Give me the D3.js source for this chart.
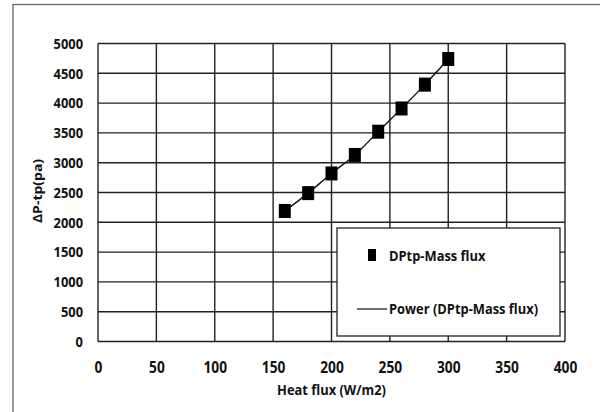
<!DOCTYPE html>
<html>
<head>
<meta charset="utf-8">
<title>DPtp vs heat flux</title>
<style>
  body { margin: 0; background: #fff; }
  svg text { font-family: "Open Sans", sans-serif; font-weight: bold; fill: #111; }
</style>
</head>
<body>
<script src="https://cdn.jsdelivr.net/npm/d3@7/dist/d3.min.js"></script>
<script>
// data
var heatFlux = [160, 180, 200, 220, 240, 260, 280, 300];
var dpTp = [2190, 2490, 2820, 3130, 3520, 3910, 4310, 4740];
var xTicks = [0, 50, 100, 150, 200, 250, 300, 350, 400];
var yTicks = [0, 500, 1000, 1500, 2000, 2500, 3000, 3500, 4000, 4500, 5000];
var legendLabels = ["DPtp-Mass flux", "Power (DPtp-Mass flux)"];

var W = 600, H = 412;
var plot = {left: 98, right: 565, top: 43.5, bottom: 341.5};
var sx = 0.86; // squeeze text horizontally (narrow font look)

var svg = d3.select("body").append("svg")
    .attr("width", W)
    .attr("height", H);

svg.append("rect").attr("width", W).attr("height", H).attr("fill", "#fff");

// outer frame of the chart
svg.append("rect")
    .attr("x", 13).attr("y", 4.5)
    .attr("width", 620).attr("height", 440)
    .attr("fill", "none")
    .attr("stroke", "#666")
    .attr("stroke-width", 1.3);

var x = d3.scaleLinear().domain([0, 400]).range([plot.left, plot.right]);
var y = d3.scaleLinear().domain([0, 5000]).range([plot.bottom, plot.top]);

// gridlines
var grid = svg.append("g").attr("stroke", "#222").attr("stroke-width", 1.4);
grid.selectAll(".hg").data(yTicks).enter().append("line")
    .attr("x1", plot.left).attr("x2", plot.right)
    .attr("y1", function(d) { return y(d); })
    .attr("y2", function(d) { return y(d); });
grid.selectAll(".vg").data(xTicks).enter().append("line")
    .attr("y1", plot.top).attr("y2", plot.bottom)
    .attr("x1", function(d) { return x(d); })
    .attr("x2", function(d) { return x(d); });

// axes (labels only)
var xAxis = svg.append("g")
    .attr("transform", "translate(0," + plot.bottom + ")")
    .call(d3.axisBottom(x).tickValues(xTicks).tickFormat(d3.format("d")).tickSize(0).tickPadding(20));
var yAxis = svg.append("g")
    .attr("transform", "translate(" + plot.left + ",0)")
    .call(d3.axisLeft(y).tickValues(yTicks).tickFormat(d3.format("d")).tickSize(0).tickPadding(15 / sx));
xAxis.select(".domain").remove();
yAxis.select(".domain").remove();
xAxis.selectAll("text").attr("font-size", 16).attr("font-family", null)
    .attr("transform", "scale(" + sx + ",1)");
yAxis.selectAll("text").attr("font-size", 15).attr("font-family", null)
    .attr("transform", "scale(" + sx + ",1)");

svg.append("text")
    .attr("transform", "translate(" + x(200) + ",395) scale(" + sx + ",1)")
    .attr("text-anchor", "middle")
    .attr("font-size", 15)
    .text("Heat flux (W/m2)");

svg.append("text")
    .attr("transform", "translate(42,191) rotate(-90) scale(1,0.9)")
    .attr("text-anchor", "middle")
    .attr("font-size", 14)
    .text("ΔP-tp(pa)");

// trend line
var line = d3.line()
    .x(function(d, i) { return x(heatFlux[i]); })
    .y(function(d) { return y(d); })
    .curve(d3.curveMonotoneX);
svg.append("path")
    .datum(dpTp)
    .attr("d", line)
    .attr("fill", "none")
    .attr("stroke", "#111")
    .attr("stroke-width", 1.4);

// markers
svg.selectAll(".pt").data(dpTp).enter().append("rect")
    .attr("x", function(d, i) { return x(heatFlux[i]) - 6; })
    .attr("y", function(d) { return y(d) - 7; })
    .attr("width", 12).attr("height", 14)
    .attr("fill", "#000");

// legend
var lg = svg.append("g");
lg.append("rect")
    .attr("x", 337).attr("y", 228)
    .attr("width", 223).attr("height", 108)
    .attr("fill", "#fff")
    .attr("stroke", "#222")
    .attr("stroke-width", 1.3);
lg.append("rect")
    .attr("x", 368).attr("y", 249)
    .attr("width", 8).attr("height", 12)
    .attr("fill", "#000");
lg.append("line")
    .attr("x1", 357).attr("x2", 387)
    .attr("y1", 309).attr("y2", 309)
    .attr("stroke", "#111").attr("stroke-width", 1.2);
lg.selectAll(".lt").data(legendLabels).enter().append("text")
    .attr("transform", function(d, i) {
        return "translate(389," + (i === 0 ? 261 : 314) + ") scale(" + sx + ",1)";
    })
    .attr("font-size", 15)
    .text(function(d) { return d; });
</script>
</body>
</html>
